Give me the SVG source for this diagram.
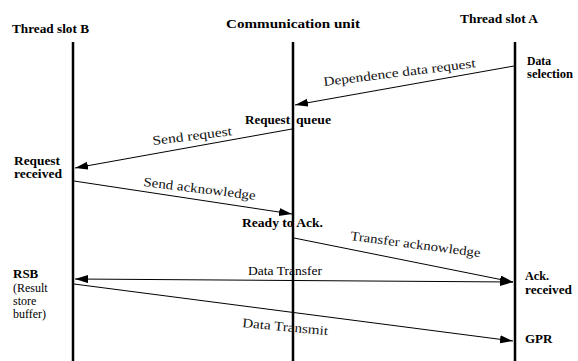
<svg xmlns="http://www.w3.org/2000/svg" width="578" height="361" viewBox="0 0 578 361">
<style>
text{font-family:'Liberation Serif','DejaVu Serif','Noto Serif','Times New Roman',Times,serif}
.hd{font-size:13px;font-weight:bold;fill:#000}
.lb{font-size:13px;font-weight:bold;fill:#000}
.st{font-size:12px;font-weight:bold;fill:#000}
.nt{font-size:13px;fill:#000}
.ns{font-size:12px;fill:#000}
.ml{font-size:13px;fill:#111}
.life{stroke:#000;stroke-width:2.5;fill:none}
.msg{stroke:#000;stroke-width:1;fill:none}
</style>
<defs>
<marker id="ah" markerUnits="userSpaceOnUse" markerWidth="14" markerHeight="9" refX="13" refY="4" orient="auto-start-reverse">
<path d="M0,0 L13,4 L0,8 z" fill="#000"/>
</marker>
</defs>
<rect width="578" height="361" fill="#fff"/>
<g id="thread-slot-b">
<text class="hd" x="12" y="33" textLength="77" lengthAdjust="spacingAndGlyphs">Thread slot B</text>
<line class="life" x1="73" y1="42" x2="73" y2="361"/>
</g>
<g id="communication-unit">
<text class="hd" x="226" y="28" textLength="134" lengthAdjust="spacingAndGlyphs">Communication unit</text>
<line class="life" x1="293" y1="42" x2="293" y2="361"/>
</g>
<g id="thread-slot-a">
<text class="hd" x="460" y="23" textLength="78" lengthAdjust="spacingAndGlyphs">Thread slot A</text>
<line class="life" x1="515" y1="42" x2="515" y2="361"/>
</g>
<g id="state-labels">
<text class="st" x="527" y="65" textLength="24" lengthAdjust="spacingAndGlyphs">Data</text>
<text class="st" x="527" y="78" textLength="46" lengthAdjust="spacingAndGlyphs">selection</text>
<text class="lb" y="124"><tspan x="245" textLength="45" lengthAdjust="spacingAndGlyphs">Request</tspan><tspan x="296" textLength="35" lengthAdjust="spacingAndGlyphs">queue</tspan></text>
<text class="st" x="14" y="165" textLength="46" lengthAdjust="spacingAndGlyphs">Request</text>
<text class="st" x="14" y="178" textLength="48" lengthAdjust="spacingAndGlyphs">received</text>
<text class="lb" x="242" y="227" textLength="81" lengthAdjust="spacingAndGlyphs">Ready to Ack.</text>
<text class="st" x="525" y="280" textLength="24" lengthAdjust="spacingAndGlyphs">Ack.</text>
<text class="st" x="525" y="294" textLength="47" lengthAdjust="spacingAndGlyphs">received</text>
<text class="lb" x="525" y="343">GPR</text>
<text class="lb" x="13" y="278">RSB</text>
<text class="ns" x="13" y="292">(Result</text>
<text class="ns" x="13" y="305">store</text>
<text class="ns" x="13" y="318">buffer)</text>
</g>
<g id="connectors">
<line class="msg" x1="514" y1="66" x2="295" y2="105" marker-end="url(#ah)"/>
<line class="msg" x1="292" y1="129" x2="75" y2="168" marker-end="url(#ah)"/>
<line class="msg" x1="74" y1="181" x2="292" y2="214" marker-end="url(#ah)"/>
<line class="msg" x1="294" y1="238" x2="513" y2="282" marker-end="url(#ah)"/>
<line class="msg" x1="75" y1="279" x2="513" y2="282" marker-start="url(#ah)" marker-end="url(#ah)"/>
<line class="msg" x1="74" y1="284" x2="513" y2="341" marker-end="url(#ah)"/>
<text class="ml" transform="translate(324,86) rotate(-7)" textLength="153" lengthAdjust="spacingAndGlyphs">Dependence data request</text>
<text class="ml" transform="translate(153,145) rotate(-7)" textLength="80" lengthAdjust="spacingAndGlyphs">Send request</text>
<text class="ml" transform="translate(143,186) rotate(7)" textLength="113" lengthAdjust="spacingAndGlyphs">Send acknowledge</text>
<text class="ml" transform="translate(350,240) rotate(7.5)" textLength="131" lengthAdjust="spacingAndGlyphs">Transfer acknowledge</text>
<text class="nt" x="248" y="275" textLength="74" lengthAdjust="spacingAndGlyphs">Data Transfer</text>
<text class="ml" transform="translate(242,327) rotate(5.5)" textLength="86" lengthAdjust="spacingAndGlyphs">Data Transmit</text>
</g>
</svg>
